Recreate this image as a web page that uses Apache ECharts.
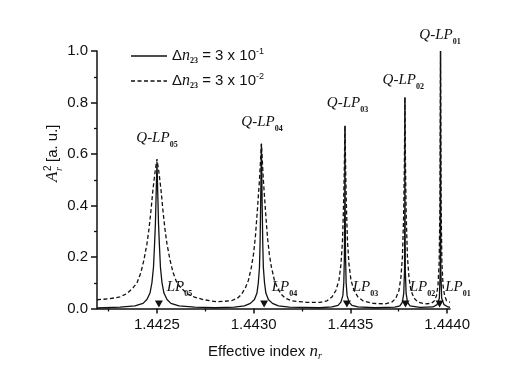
<!DOCTYPE html>
<html>
<head>
<meta charset="utf-8">
<script src="https://cdn.jsdelivr.net/npm/echarts@6/dist/echarts.min.js"></script>
<style>
html,body{margin:0;padding:0;background:#ffffff;}
#chart{width:531px;height:378px;}
</style>
</head>
<body>
<div id="chart"></div>
<script>
// ---------- data ----------
const xMin = 1.44219;
const xMax = 1.444015;
const xMajorTicks = [1.4425, 1.4430, 1.4435, 1.4440];
const xMinorTicks = [1.44225, 1.44275, 1.44325, 1.44375];

// Δn23 = 3 x 10^-1 (solid)
const solidCurve = [
  [1.442190,0.002],[1.442309,0.005],[1.442386,0.01],[1.442428,0.02],[1.442448,0.035],[1.442464,0.06],[1.442474,0.10],[1.442482,0.16],[1.442487,0.24],[1.442492,0.33],[1.442496,0.45],[1.442500,0.57],[1.442504,0.45],[1.442508,0.33],[1.442513,0.24],[1.442518,0.16],[1.442526,0.10],[1.442536,0.06],[1.442552,0.035],[1.442572,0.02],[1.442614,0.01],[1.442696,0.005],[1.442800,0.003],
  [1.442900,0.005],[1.442952,0.01],[1.442983,0.02],[1.443004,0.035],[1.443017,0.06],[1.443024,0.10],[1.443030,0.16],[1.443033,0.25],[1.443036,0.40],[1.443040,0.64],[1.443044,0.40],[1.443047,0.25],[1.443050,0.16],[1.443056,0.10],[1.443063,0.06],[1.443076,0.035],[1.443097,0.02],[1.443128,0.01],[1.443185,0.005],[1.443340,0.003],
  [1.443405,0.006],[1.443436,0.012],[1.443451,0.025],[1.443461,0.05],[1.443466,0.10],[1.443469,0.2],[1.443471,0.4],[1.443472,0.71],[1.443473,0.4],[1.443475,0.2],[1.443478,0.10],[1.443483,0.05],[1.443493,0.025],[1.443508,0.012],[1.443539,0.006],[1.443627,0.003],
  [1.443730,0.005],[1.443756,0.01],[1.443769,0.025],[1.443776,0.06],[1.443780,0.15],[1.4437815,0.4],[1.443782,0.82],[1.4437825,0.4],[1.443784,0.15],[1.443788,0.06],[1.443795,0.025],[1.443808,0.01],[1.443860,0.004],
  [1.443927,0.006],[1.443948,0.015],[1.443960,0.04],[1.4439645,0.15],[1.443966,1.0],[1.4439675,0.15],[1.443972,0.04],[1.443984,0.015],[1.444005,0.006],[1.444015,0.004]
];

// Δn23 = 3 x 10^-2 (dashed)
const dashedCurve = [
  [1.442190,0.034],[1.442257,0.038],[1.442309,0.045],[1.442345,0.058],[1.442376,0.08],[1.442397,0.10],[1.442417,0.14],[1.442433,0.19],[1.442448,0.25],[1.442459,0.31],[1.442469,0.38],[1.442479,0.46],[1.442490,0.53],[1.442500,0.58],[1.442510,0.53],[1.442521,0.46],[1.442531,0.38],[1.442541,0.31],[1.442552,0.25],[1.442567,0.19],[1.442583,0.14],[1.442603,0.10],[1.442624,0.08],[1.442655,0.058],[1.442691,0.045],[1.442743,0.034],[1.442810,0.026],
  [1.442885,0.03],[1.442916,0.04],[1.442937,0.055],[1.442957,0.08],[1.442973,0.11],[1.442988,0.16],[1.442999,0.21],[1.443009,0.28],[1.443019,0.38],[1.443030,0.50],[1.443040,0.64],[1.443050,0.50],[1.443061,0.38],[1.443071,0.28],[1.443081,0.21],[1.443092,0.16],[1.443107,0.11],[1.443123,0.08],[1.443143,0.055],[1.443164,0.04],[1.443195,0.03],[1.443273,0.024],
  [1.443343,0.024],[1.443379,0.03],[1.443405,0.045],[1.443425,0.07],[1.443441,0.11],[1.443451,0.17],[1.443459,0.26],[1.443464,0.38],[1.443468,0.52],[1.443472,0.71],[1.443476,0.52],[1.443480,0.38],[1.443485,0.26],[1.443493,0.17],[1.443503,0.11],[1.443519,0.07],[1.443539,0.045],[1.443565,0.03],[1.443617,0.02],
  [1.443679,0.018],[1.443715,0.025],[1.443735,0.04],[1.443751,0.07],[1.443761,0.12],[1.443769,0.2],[1.443775,0.35],[1.443779,0.55],[1.443782,0.82],[1.443785,0.55],[1.443789,0.35],[1.443795,0.2],[1.443803,0.12],[1.443813,0.07],[1.443829,0.04],[1.443849,0.025],[1.443885,0.018],
  [1.443919,0.02],[1.443935,0.03],[1.443945,0.05],[1.443953,0.09],[1.443959,0.18],[1.443963,0.4],[1.443966,1.0],[1.443969,0.4],[1.443973,0.18],[1.443979,0.09],[1.443987,0.05],[1.443997,0.03],[1.444007,0.025],[1.444015,0.024]
];

// resonance markers (LP05 ... LP01)
const resonanceX = [1.442510, 1.443054, 1.443482, 1.443785, 1.443961];
const resonanceY = 0.017;

// mode labels: [mode number, x, y] (label anchor in data units)
const quasiModeLabels = [
  ['05', 1.442500, 0.662],
  ['04', 1.443043, 0.725],
  ['03', 1.443485, 0.798],
  ['02', 1.4437735, 0.887],
  ['01', 1.4439633, 1.062]
];
const modeLabels = [
  ['05', 1.4426163, 0.082],
  ['04', 1.4431593, 0.082],
  ['03', 1.443578, 0.082],
  ['02', 1.4438728, 0.082],
  ['01', 1.4440563, 0.082]
];
const legendExp = ['-1', '-2'];

// ---------- chart ----------
const SERIF = '"Liberation Serif", "DejaVu Serif", serif';
const SANS = '"Liberation Sans", Arial, sans-serif';
const INK = '#111';
const chart = echarts.init(document.getElementById('chart'), null, {renderer: 'canvas'});

const qRich = {
  m: {fontFamily: SERIF, fontStyle: 'italic', fontSize: 15, lineHeight: 22, color: INK},
  s: {fontFamily: SERIF, fontSize: 8, fontWeight: 'bold', lineHeight: 9, verticalAlign: 'bottom', color: INK}
};
const legendRich = {
  d: {fontFamily: SANS, fontSize: 15, lineHeight: 18, fill: INK},
  n: {fontFamily: SERIF, fontStyle: 'italic', fontSize: 16, lineHeight: 18, fill: INK},
  s: {fontFamily: SERIF, fontSize: 8, fontWeight: 'bold', lineHeight: 9, verticalAlign: 'bottom', fill: INK},
  p: {fontFamily: SANS, fontSize: 9, lineHeight: 10, verticalAlign: 'top', fill: INK}
};
function legendText(i) {
  return '{d|Δ}{n|n}{s|23}{d| = 3 x 10}{p|' + legendExp[i] + '}';
}

const option = {
  backgroundColor: '#ffffff',
  animation: false,
  grid: {left: 97, top: 51, width: 353, height: 257.5, containLabel: false},
  xAxis: [{
    type: 'value', min: xMin, max: xMax,
    axisLine: {show: true, onZero: false, lineStyle: {color: INK, width: 1.5}},
    axisTick: {show: true, inside: false, length: 5, customValues: xMajorTicks, lineStyle: {color: INK, width: 1.5}},
    axisLabel: {show: true, customValues: xMajorTicks, margin: 9, fontFamily: SANS, fontSize: 15, color: INK,
      formatter: v => v.toFixed(4)},
    splitLine: {show: false}
  }, {
    type: 'value', min: xMin, max: xMax, position: 'bottom', gridIndex: 0,
    axisLine: {show: false, onZero: false},
    axisTick: {show: true, inside: false, length: 3, customValues: xMinorTicks, lineStyle: {color: INK, width: 1.3}},
    axisLabel: {show: false},
    splitLine: {show: false}
  }],
  yAxis: {
    type: 'value', min: 0, max: 1, interval: 0.2,
    axisLine: {show: true, onZero: false, lineStyle: {color: INK, width: 1.5}},
    axisTick: {show: true, inside: false, length: 6, lineStyle: {color: INK, width: 1.5}},
    minorTick: {show: true, splitNumber: 2, length: 3, lineStyle: {color: INK, width: 1.3}},
    axisLabel: {margin: 9, fontFamily: SANS, fontSize: 15, color: INK, formatter: v => v.toFixed(1)},
    splitLine: {show: false}
  },
  series: [
    {
      name: 'solid', type: 'line', data: solidCurve, symbol: 'none', showSymbol: false,
      lineStyle: {color: INK, width: 1.3, type: 'solid'}, itemStyle: {color: INK},
      silent: true, z: 3
    },
    {
      name: 'dashed', type: 'line', data: dashedCurve, symbol: 'none', showSymbol: false,
      lineStyle: {color: INK, width: 1.3, type: [4, 2.5]}, itemStyle: {color: INK},
      silent: true, z: 3
    },
    {
      type: 'scatter', data: resonanceX.map(x => [x, resonanceY]),
      symbol: 'triangle', symbolRotate: 180, symbolSize: [8, 7],
      itemStyle: {color: INK, opacity: 1}, silent: true, z: 4
    },
    {
      type: 'scatter', clip: false, silent: true, z: 5,
      data: quasiModeLabels.map(d => ({value: [d[1], d[2]], mode: d[0]})),
      symbolSize: 1, itemStyle: {color: 'rgba(0,0,0,0)', opacity: 1},
      label: {show: true, position: 'inside', color: INK, opacity: 1,
        formatter: p => '{m|Q-LP}{s|' + p.data.mode + '}', rich: qRich}
    },
    {
      type: 'scatter', clip: false, silent: true, z: 5,
      data: modeLabels.map(d => ({value: [d[1], d[2]], mode: d[0]})),
      symbolSize: 1, itemStyle: {color: 'rgba(0,0,0,0)', opacity: 1},
      label: {show: true, position: 'inside', color: INK, opacity: 1,
        formatter: p => '{m|LP}{s|' + p.data.mode + '}', rich: qRich}
    }
  ],
  graphic: [
    // legend
    {type: 'line', silent: true, shape: {x1: 131, y1: 56, x2: 167, y2: 56}, style: {stroke: INK, lineWidth: 1.3}},
    {type: 'line', silent: true, shape: {x1: 131, y1: 81, x2: 167, y2: 81}, style: {stroke: INK, lineWidth: 1.3, lineDash: [4, 2.5]}},
    {type: 'text', silent: true, x: 172, y: 56, style: {text: legendText(0), rich: legendRich, verticalAlign: 'middle', align: 'left'}},
    {type: 'text', silent: true, x: 172, y: 81, style: {text: legendText(1), rich: legendRich, verticalAlign: 'middle', align: 'left'}},
    // x axis title
    {
      type: 'text', left: 208, top: 343, silent: true,
      style: {
        text: '{a|Effective index }{n|n}{s|r}',
        rich: {
          a: {fontFamily: SANS, fontSize: 15, lineHeight: 20, fill: INK},
          n: {fontFamily: SERIF, fontStyle: 'italic', fontSize: 17, lineHeight: 20, fill: INK},
          s: {fontFamily: SERIF, fontStyle: 'italic', fontSize: 10, lineHeight: 10, verticalAlign: 'bottom', fill: INK}
        }
      }
    },
    // y axis title
    {
      type: 'group', x: 53, y: 182, rotation: Math.PI / 2, silent: true,
      children: [
        {type: 'text', x: 0, y: 0, style: {text: 'A', font: 'italic 17px ' + SERIF, fill: INK, verticalAlign: 'middle', align: 'left'}},
        {type: 'text', x: 11, y: -5, style: {text: '2', font: '10px ' + SANS, fill: INK, verticalAlign: 'middle', align: 'left'}},
        {type: 'text', x: 11, y: 6, style: {text: 'r', font: 'italic 10px ' + SERIF, fill: INK, verticalAlign: 'middle', align: 'left'}},
        {type: 'text', x: 20, y: 0, style: {text: '[a. u.]', font: '15px ' + SANS, fill: INK, verticalAlign: 'middle', align: 'left'}}
      ]
    }
  ]
};
chart.setOption(option);
</script>
</body>
</html>
